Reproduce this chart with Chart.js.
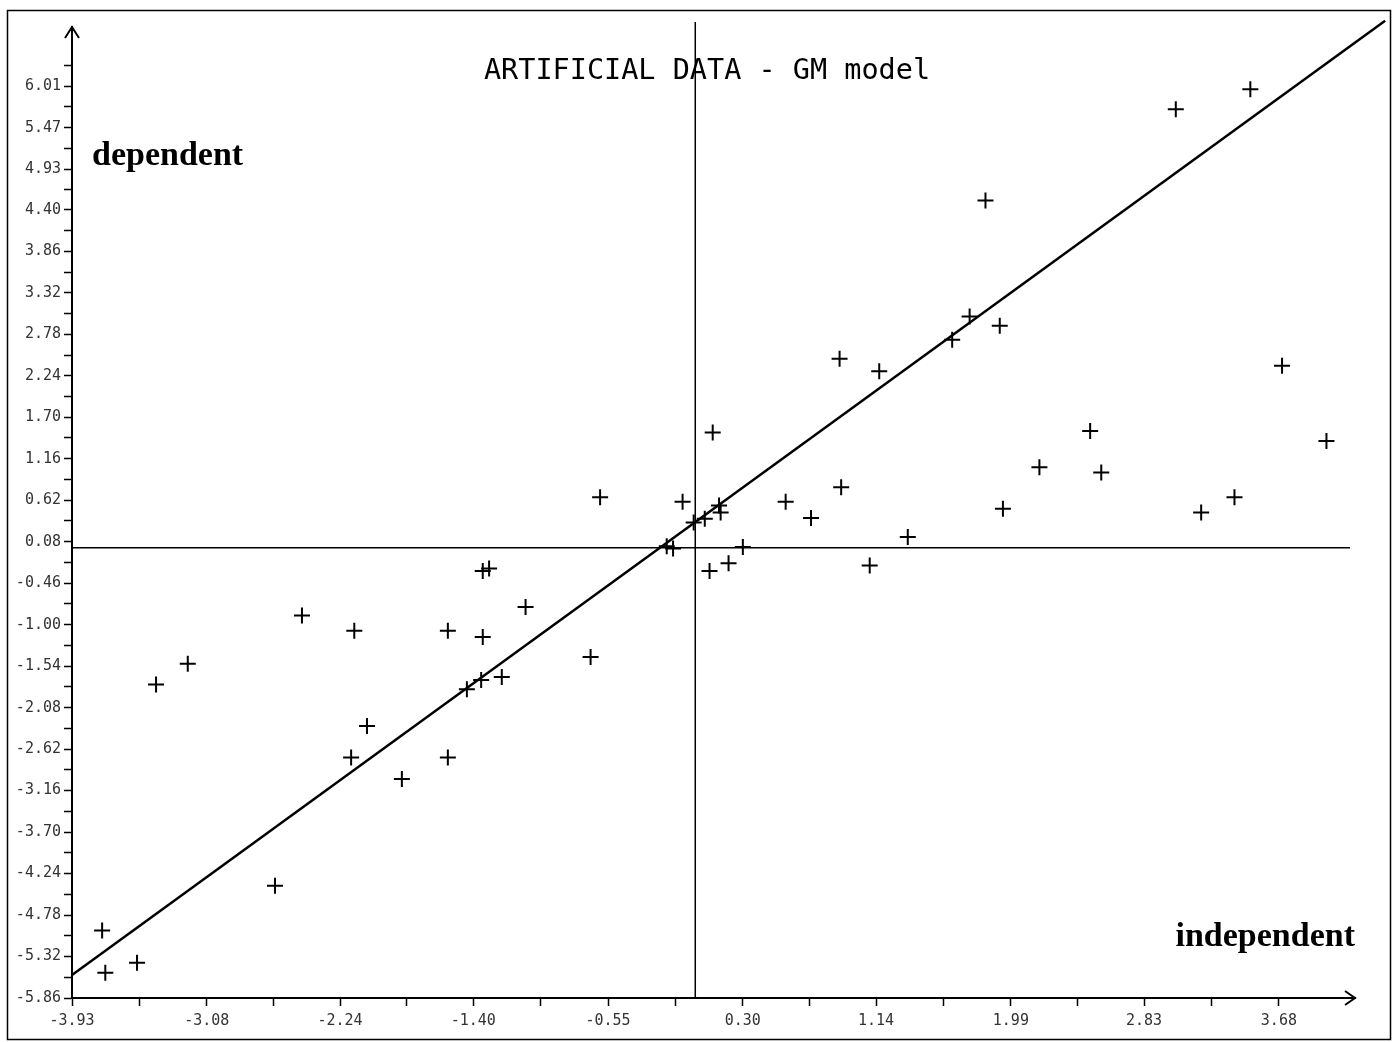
<!DOCTYPE html>
<html>
<head>
<meta charset="utf-8">
<title>ARTIFICIAL DATA - GM model</title>
<script src="https://cdn.jsdelivr.net/npm/chart.js@4.4.1/dist/chart.umd.min.js"></script>
<style>
  html, body { margin: 0; padding: 0; background: #fff; }
  #wrap { width: 1395px; height: 1042px; }
</style>
</head>
<body>
<div id="wrap"><canvas id="gm" width="1395" height="1042"></canvas></div>
<script>
// --- data ---
const X_LABELS = ['-3.93', '-3.08', '-2.24', '-1.40', '-0.55', '0.30', '1.14', '1.99', '2.83', '3.68'];
const Y_LABELS = ['-5.86', '-5.32', '-4.78', '-4.24', '-3.70', '-3.16', '-2.62', '-2.08', '-1.54', '-1.00',
                  '-0.46', '0.08', '0.62', '1.16', '1.70', '2.24', '2.78', '3.32', '3.86', '4.40', '4.93', '5.47', '6.01'];

const X_VALUES = [-3.74, -3.72, -3.52, -3.40, -3.20, -2.65, -2.48, -2.17, -2.15, -2.07,
                  -1.85, -1.56, -1.56, -1.44, -1.35, -1.34, -1.34, -1.30, -1.22, -1.07,
                  -0.66, -0.60, -0.18, -0.14, -0.08, -0.01, 0.06, 0.09, 0.11, 0.15,
                  0.16, 0.21, 0.30, 0.57, 0.73, 0.91, 0.92, 1.10, 1.16, 1.34,
                  1.62, 1.73, 1.83, 1.92, 1.94, 2.17, 2.49, 2.56, 3.03, 3.19,
                  3.40, 3.50, 3.70, 3.98];
const Y_VALUES = [-4.98, -5.53, -5.40, -1.78, -1.51, -4.40, -0.88, -2.73, -1.08, -2.32,
                  -3.01, -2.73, -1.08, -1.84, -1.72, -1.16, -0.30, -0.27, -1.68, -0.77,
                  -1.42, 0.66, 0.02, -0.01, 0.60, 0.33, 0.38, -0.30, 1.50, 0.55,
                  0.46, -0.20, 0.01, 0.60, 0.39, 2.46, 0.79, -0.23, 2.30, 0.14,
                  2.71, 3.01, 4.52, 2.89, 0.51, 1.05, 1.52, 0.98, 5.71, 0.46,
                  0.66, 5.97, 2.37, 1.39];

// fitted line (end points as drawn)
const FIT_X = [-3.93, 4.35];
const FIT_Y = [-5.56, 6.86];

const X_MIN = -3.93, X_MAX = 4.16;
const Y_MIN = -5.86, Y_MAX = 6.78;

// major ticks carry labels, a minor tick sits half way between
function withMinor(labels, extraTop) {
  const vals = labels.map(Number);
  const out = [];
  for (let i = 0; i < vals.length; i++) {
    out.push({ value: vals[i], label: labels[i] });
    if (i < vals.length - 1) out.push({ value: (vals[i] + vals[i + 1]) / 2, label: '' });
  }
  if (extraTop) {
    const n = vals.length;
    out.push({ value: vals[n - 1] + (vals[n - 1] - vals[n - 2]) / 2, label: '' });
  }
  return out;
}
const X_TICKS = withMinor(X_LABELS, false);
const Y_TICKS = withMinor(Y_LABELS, true);

const tickFont = { family: '"DejaVu Sans Mono", monospace', size: 15 };

const decor = {
  id: 'decor',
  beforeDatasetsDraw(chart) {
    const { ctx, chartArea: a, scales: { x, y } } = chart;
    const x0 = x.getPixelForValue(0), y0 = y.getPixelForValue(0);
    ctx.save();
    ctx.strokeStyle = '#000';
    ctx.lineWidth = 1.5;
    ctx.beginPath();
    ctx.moveTo(x0, a.top - 5); ctx.lineTo(x0, a.bottom);
    ctx.moveTo(a.left, y0); ctx.lineTo(a.right - 5, y0);
    ctx.stroke();
    ctx.restore();
  },
  afterDraw(chart) {
    const { ctx, chartArea: a } = chart;
    ctx.save();
    ctx.strokeStyle = '#000';
    ctx.lineWidth = 2;
    // arrow heads
    ctx.beginPath();
    ctx.moveTo(a.left - 7, a.top + 11); ctx.lineTo(a.left, a.top); ctx.lineTo(a.left + 7, a.top + 11);
    ctx.moveTo(a.right - 10, a.bottom - 7); ctx.lineTo(a.right, a.bottom); ctx.lineTo(a.right - 10, a.bottom + 7);
    ctx.stroke();
    // outer frame
    ctx.lineWidth = 1.5;
    ctx.strokeRect(7.5, 10.5, 1383, 1029);

    ctx.fillStyle = '#000';
    ctx.font = '28.5px "DejaVu Sans Mono", monospace';
    ctx.textAlign = 'center';
    ctx.textBaseline = 'alphabetic';
    ctx.fillText('ARTIFICIAL DATA - GM model', 707, 79);

    ctx.font = 'bold 34px "Liberation Serif", serif';
    ctx.textAlign = 'left';
    ctx.fillText('dependent', 92, 165);
    ctx.textAlign = 'right';
    ctx.fillText('independent', 1355, 946);
    ctx.restore();
  }
};

new Chart(document.getElementById('gm'), {
  type: 'scatter',
  data: {
    datasets: [
      {
        label: 'observations',
        data: X_VALUES.map((v, i) => ({ x: v, y: Y_VALUES[i] })),
        pointStyle: 'cross',
        pointRadius: 8,
        pointBorderWidth: 2,
        borderColor: '#000',
        backgroundColor: '#000',
        showLine: false,
      },
      {
        label: 'GM fit',
        data: FIT_X.map((v, i) => ({ x: v, y: FIT_Y[i] })),
        showLine: true,
        borderColor: '#000',
        borderWidth: 2.5,
        pointRadius: 0,
        clip: false,
      },
    ],
  },
  plugins: [decor],
  options: {
    responsive: false,
    animation: false,
    devicePixelRatio: 1,
    layout: { padding: { top: 27, right: 40, left: 0, bottom: 0 } },
    plugins: { legend: { display: false }, tooltip: { enabled: false }, title: { display: false } },
    scales: {
      x: {
        type: 'linear',
        min: X_MIN,
        max: X_MAX,
        afterBuildTicks: (s) => { s.ticks = X_TICKS.map(t => ({ value: t.value })); },
        afterFit: (s) => { s.height = 44; },
        ticks: {
          autoSkip: false,
          maxRotation: 0,
          font: tickFont,
          color: '#333',
          padding: 6,
          callback: (v, i) => X_TICKS[i].label,
        },
        grid: { drawOnChartArea: false, tickLength: 8, color: '#000', tickWidth: 1.5 },
        border: { color: '#000', width: 2 },
      },
      y: {
        type: 'linear',
        min: Y_MIN,
        max: Y_MAX,
        afterBuildTicks: (s) => { s.ticks = Y_TICKS.map(t => ({ value: t.value })); },
        afterFit: (s) => { s.width = 72; },
        ticks: {
          autoSkip: false,
          font: tickFont,
          color: '#333',
          padding: 3,
          callback: (v, i) => Y_TICKS[i].label,
        },
        grid: { drawOnChartArea: false, tickLength: 8, color: '#000', tickWidth: 1.5 },
        border: { color: '#000', width: 2 },
      },
    },
  },
});
</script>
</body>
</html>
